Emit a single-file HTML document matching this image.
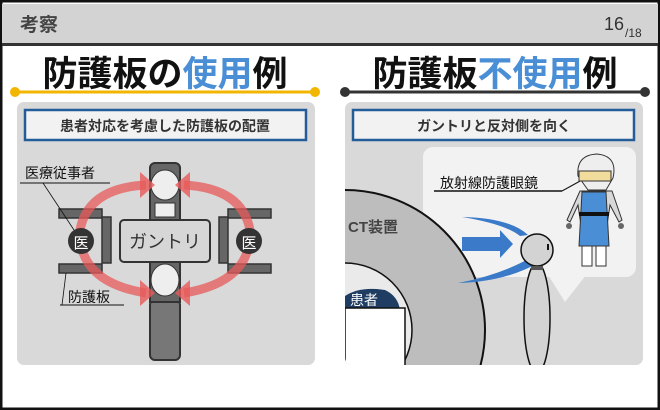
<!DOCTYPE html>
<html><head><meta charset="utf-8"><style>
html,body{margin:0;padding:0;width:660px;height:410px;overflow:hidden;background:#fff;font-family:"Liberation Sans","Noto Sans CJK JP",sans-serif}
svg{display:block}
</style></head><body>
<svg width="660" height="410" viewBox="0 0 660 410" xmlns="http://www.w3.org/2000/svg" font-family="Liberation Sans, Noto Sans CJK JP, sans-serif">
<rect x="0" y="0" width="660" height="410" fill="#fff"/>
<rect x="1" y="1" width="658" height="408" fill="none" stroke="#111" stroke-width="3"/>
<rect x="2" y="4" width="656" height="39" fill="#d3d3d3"/>
<rect x="2" y="43" width="656" height="3" fill="#333"/>
<text x="20" y="31" font-size="19" font-weight="bold" fill="#444">考察</text>
<text x="604" y="30" font-size="18" fill="#333">16</text><text x="625" y="37" font-size="12" fill="#333">/18</text>

<g font-size="35" font-weight="bold" stroke="#fff" stroke-width="5" paint-order="stroke" stroke-linejoin="round">
<text x="165" y="86" text-anchor="middle" fill="#111">防護板の<tspan fill="#4a8fd6">使用</tspan>例</text>
<text x="495" y="86" text-anchor="middle" fill="#111">防護板<tspan fill="#4a8fd6">不使用</tspan>例</text>
</g>
<line x1="15" y1="92" x2="315" y2="92" stroke="#f2b600" stroke-width="3"/>
<circle cx="15" cy="92" r="5" fill="#f2b600"/><circle cx="315" cy="92" r="5" fill="#f2b600"/>
<line x1="345" y1="92" x2="645" y2="92" stroke="#333" stroke-width="3"/>
<circle cx="345" cy="92" r="5" fill="#333"/><circle cx="645" cy="92" r="5" fill="#333"/>

<rect x="17" y="102" width="298" height="263" rx="7" fill="#d9d9d9"/>
<rect x="345" y="102" width="298" height="263" rx="7" fill="#d9d9d9"/>
<rect x="25" y="110" width="281" height="30" fill="#f2f2f2" stroke="#235c98" stroke-width="2.5"/>
<text x="165" y="131" text-anchor="middle" font-size="14" font-weight="bold" fill="#333">患者対応を考慮した防護板の配置</text>
<rect x="353" y="110" width="281" height="30" fill="#f2f2f2" stroke="#235c98" stroke-width="2.5"/>
<text x="494" y="131" text-anchor="middle" font-size="14" font-weight="bold" fill="#333">ガントリと反対側を向く</text>

<rect x="150" y="163" width="30" height="62" rx="5" fill="#666" stroke="#333" stroke-width="2"/>
<rect x="150" y="300" width="30" height="60" rx="5" fill="#777" stroke="#333" stroke-width="2"/>
<rect x="150" y="258" width="30" height="44" fill="#666" stroke="#333" stroke-width="2"/>
<ellipse cx="165" cy="185" rx="14" ry="15" fill="#eee" stroke="#333"/>
<ellipse cx="165" cy="280" rx="14" ry="16" fill="#eee" stroke="#333"/>
<rect x="155" y="203" width="20" height="14" fill="#eee" stroke="#333"/>
<g fill="#666" stroke="#333" stroke-width="1.5">
<rect x="59" y="209" width="43" height="9"/><rect x="59" y="264" width="43" height="9"/><rect x="102" y="217" width="9" height="46"/>
<rect x="228" y="209" width="43" height="9"/><rect x="228" y="264" width="43" height="9"/><rect x="219" y="217" width="9" height="46"/>
</g>
<g fill="none" stroke="#e85a5a" stroke-width="9" opacity="0.75">
<path d="M146,185 Q88,188 80,230 Q78,282 146,293"/>
<path d="M184,185 Q242,188 250,230 Q252,282 184,293"/>
</g>
<g fill="#e85a5a" opacity="0.8">
<polygon points="155,185 140,172 140,198"/><polygon points="175,185 190,172 190,198"/>
<polygon points="155,293 140,280 140,306"/><polygon points="175,293 190,280 190,306"/>
</g>
<rect x="120" y="220" width="90" height="42" rx="4" fill="#d6d6d6" stroke="#333" stroke-width="2"/>
<text x="165" y="248" text-anchor="middle" font-size="18" fill="#333">ガントリ</text>
<circle cx="81" cy="241" r="13" fill="#333"/><text x="81" y="248" text-anchor="middle" font-size="15" fill="#fff">医</text>
<circle cx="249" cy="241" r="13" fill="#333"/><text x="249" y="248" text-anchor="middle" font-size="15" fill="#fff">医</text>
<text x="25" y="178" font-size="14" fill="#111">医療従事者</text>
<line x1="20" y1="183" x2="110" y2="183" stroke="#111"/>
<line x1="43" y1="183" x2="74" y2="230" stroke="#111" stroke-width="0.8"/>
<text x="68" y="302" font-size="14" fill="#111">防護板</text>
<line x1="60" y1="305" x2="124" y2="305" stroke="#111"/>
<line x1="66" y1="273" x2="62" y2="305" stroke="#111" stroke-width="0.8"/>

<defs><clipPath id="rp"><rect x="345" y="102" width="298" height="263" rx="7"/></clipPath></defs>
<g clip-path="url(#rp)">
<rect x="423" y="147" width="213" height="130" rx="10" fill="#f2f2f2"/>
<polygon points="545,270 590,270 565,302" fill="#f2f2f2"/>
<circle cx="345" cy="330" r="140" fill="#bdbdbd" stroke="#111" stroke-width="2"/>
<circle cx="345" cy="330" r="67" fill="#eaeaea" stroke="#111" stroke-width="1.5"/>
<path d="M345,310 L345,296 Q360,286 385,290 Q398,296 400,310 Z" fill="#1f3d63"/>
<rect x="345" y="308" width="60" height="60" fill="#fff" stroke="#111" stroke-width="1.5"/>
<text x="350" y="305" font-size="14" fill="#fff">患者</text>
<text x="348" y="232" font-size="15" font-weight="bold" fill="#444">CT装置</text>
<path d="M462,237 L500,237 L500,230 L513,244 L500,258 L500,251 L462,251 Z" fill="#3a7ac9"/>
<path d="M462,217 Q510,218 528,235 L520,236 Q505,224 462,217 Z" fill="#3a7ac9"/>
<path d="M458,283 Q500,275 530,258 L540,262 Q505,282 458,283 Z" fill="#3a7ac9"/>
<ellipse cx="537" cy="318" rx="13" ry="55" fill="#d3d3d3" stroke="#111" stroke-width="1.5"/>
<circle cx="537" cy="250" r="16" fill="#d3d3d3" stroke="#111" stroke-width="1.5"/>
<line x1="548" y1="244" x2="548" y2="250" stroke="#111" stroke-width="2"/>
<rect x="531" y="266" width="12" height="4" fill="#555"/>
</g>
<text x="440" y="188" font-size="14" fill="#111">放射線防護眼鏡</text>
<line x1="434" y1="191" x2="562" y2="191" stroke="#111" stroke-width="1.5"/>
<line x1="562" y1="191" x2="582" y2="180" stroke="#111"/>
<path d="M578,176 Q576,155 597,154 Q618,156 613,178 L606,190 L588,190 Z" fill="#eee" stroke="#333"/>
<rect x="579" y="171" width="32" height="10" fill="#f2dc9b" stroke="#333"/>
<path d="M580,191 L612,191 L622,220 L619,222 L610,205 L604,246 L584,246 L578,205 L570,222 L567,220 Z" fill="#d8d8d8" stroke="#333"/>
<path d="M582,192 L606,192 L609,246 L579,246 Z" fill="#4a8fd6" stroke="#333"/>
<rect x="579" y="212" width="30" height="4" fill="#111"/>
<rect x="582" y="246" width="10" height="20" fill="#fff" stroke="#333"/><rect x="596" y="246" width="10" height="20" fill="#fff" stroke="#333"/>
<circle cx="569" cy="226" r="3" fill="#666"/><circle cx="621" cy="226" r="3" fill="#666"/>
</svg>
</body></html>
